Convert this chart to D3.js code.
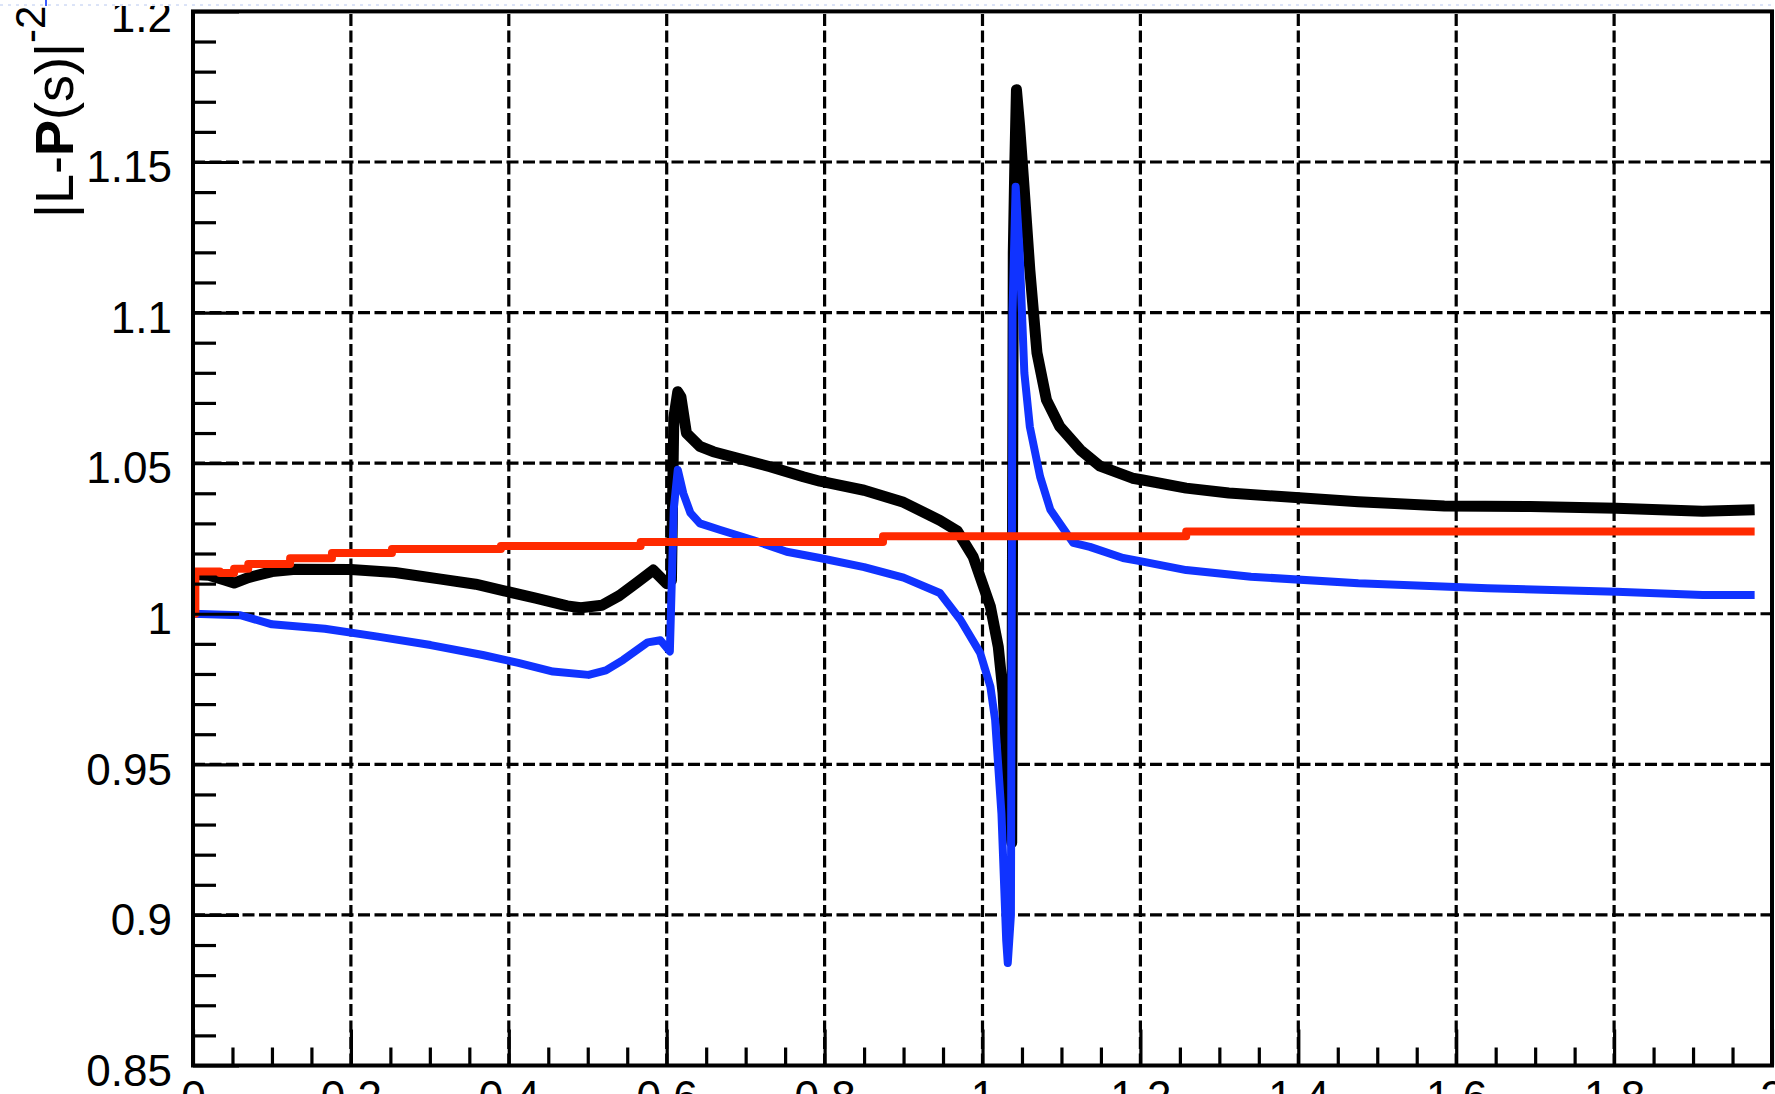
<!DOCTYPE html>
<html>
<head>
<meta charset="utf-8">
<script src="https://cdn.jsdelivr.net/npm/d3@7"></script>
<style>
  html, body { margin: 0; padding: 0; background: #fff; overflow: hidden; }
  svg { display: block; }
  text { font-family: "Liberation Sans", Arial, Helvetica, sans-serif; fill: #000; }
</style>
</head>
<body>
<svg id="chart" width="1775" height="1094"></svg>
<script>
// |L-P(s)|^-2 versus s : three curves
const xDomain = [0, 2];
const yDomain = [0.85, 1.2];

const xMajorTicks = [0, 0.2, 0.4, 0.6, 0.8, 1.0, 1.2, 1.4, 1.6, 1.8, 2.0];
const xTickLabels = ["0", "0.2", "0.4", "0.6", "0.8", "1", "1.2", "1.4", "1.6", "1.8", "2"];
const yMajorTicks = [0.85, 0.9, 0.95, 1.0, 1.05, 1.1, 1.15, 1.2];
const yTickLabels = ["0.85", "0.9", "0.95", "1", "1.05", "1.1", "1.15", "1.2"];

// black curve
const blackX = [0.000, 0.020, 0.040, 0.052, 0.070, 0.100, 0.130, 0.200, 0.256, 0.314,
  0.358, 0.394, 0.434, 0.474, 0.491, 0.518, 0.540, 0.563, 0.583, 0.600,
  0.606, 0.609, 0.614, 0.618, 0.625, 0.642, 0.659, 0.689, 0.731, 0.773,
  0.794, 0.850, 0.900, 0.946, 0.968, 0.988, 1.010, 1.020, 1.026, 1.029,
  1.033, 1.037, 1.039, 1.041, 1.043, 1.047, 1.052, 1.060, 1.069, 1.081,
  1.098, 1.124, 1.149, 1.190, 1.203, 1.258, 1.312, 1.378, 1.476, 1.585,
  1.694, 1.803, 1.912, 1.978];
const blackY = [1.0130, 1.0128, 1.0112, 1.0102, 1.0120, 1.0140, 1.0148, 1.0147, 1.0137, 1.0115,
  1.0098, 1.0076, 1.0052, 1.0026, 1.0020, 1.0028, 1.0060, 1.0105, 1.0145, 1.0100,
  1.0110, 1.0650, 1.0737, 1.0720, 1.0600, 1.0556, 1.0538, 1.0517, 1.0488, 1.0455,
  1.0440, 1.0410, 1.0370, 1.0310, 1.0275, 1.0190, 1.0024, 0.9890, 0.9737, 0.9580,
  0.9400, 0.9240, 1.1200, 1.1500, 1.1740, 1.1620, 1.1440, 1.1140, 1.0866, 1.0710,
  1.0621, 1.0544, 1.0490, 1.0450, 1.0444, 1.0417, 1.0401, 1.0389, 1.0372, 1.0358,
  1.0356, 1.0350, 1.0340, 1.0345];

// blue curve
const blueX = [0.000, 0.060, 0.100, 0.167, 0.234, 0.301, 0.367, 0.412, 0.456, 0.501,
  0.523, 0.545, 0.576, 0.592, 0.604, 0.609, 0.614, 0.621, 0.630, 0.642,
  0.668, 0.709, 0.752, 0.794, 0.850, 0.900, 0.946, 0.972, 0.997, 1.010,
  1.016, 1.024, 1.030, 1.032, 1.036, 1.038, 1.042, 1.047, 1.053, 1.060,
  1.073, 1.086, 1.115, 1.136, 1.178, 1.203, 1.258, 1.340, 1.476, 1.640,
  1.803, 1.912, 1.978];
const blueY = [1.0000, 0.9995, 0.9965, 0.9950, 0.9924, 0.9896, 0.9863, 0.9837, 0.9808, 0.9797,
  0.9812, 0.9847, 0.9905, 0.9912, 0.9875, 1.0350, 1.0478, 1.0400, 1.0335, 1.0300,
  1.0278, 1.0245, 1.0206, 1.0185, 1.0155, 1.0120, 1.0069, 0.9980, 0.9870, 0.9758,
  0.9647, 0.9336, 0.8917, 0.8840, 0.9000, 1.1000, 1.1418, 1.1200, 1.0800, 1.0620,
  1.0455, 1.0345, 1.0235, 1.0222, 1.0185, 1.0173, 1.0145, 1.0123, 1.0101, 1.0085,
  1.0073, 1.0062, 1.0062];

// red curve (piecewise constant)
const redX = [0.000, 0.003, 0.034, 0.052, 0.070, 0.123, 0.176, 0.252, 0.390, 0.567, 0.874, 1.258, 1.978];
const redY = [1.0000, 1.0140, 1.0135, 1.0149, 1.0165, 1.0184, 1.0202, 1.0215, 1.0225, 1.0238, 1.0257, 1.0273, 1.0273];

const W = 1775, H = 1094;
const frame = { left: 193, right: 1772, top: 11.4, bottom: 1065.5 };

const svg = d3.select("#chart");
const x = d3.scaleLinear().domain(xDomain).range([frame.left, frame.right]);
const y = d3.scaleLinear().domain(yDomain).range([frame.bottom, frame.top]);

// minor tick values: 0.05 in x, 0.01 in y
const xMinor = d3.range(0, 2.0001, 0.05).filter(v => Math.abs(v * 5 - Math.round(v * 5)) > 1e-6);
const yMinor = d3.range(0.85, 1.2001, 0.01).filter(v => Math.abs(v * 20 - Math.round(v * 20)) > 1e-6);

// dashed grid
const grid = svg.append("g").attr("stroke", "#000").attr("stroke-width", 3.2)
  .attr("stroke-dasharray", "12,4.5").attr("fill", "none");
grid.selectAll("line.gx").data(xMajorTicks.filter(v => v > 0 && v < 2)).join("line")
  .attr("class", "gx")
  .attr("x1", d => x(d)).attr("x2", d => x(d))
  .attr("y1", frame.bottom).attr("y2", frame.top);
grid.selectAll("line.gy").data(yMajorTicks.filter(v => v > 0.85 && v < 1.2)).join("line")
  .attr("class", "gy")
  .attr("y1", d => y(d)).attr("y2", d => y(d))
  .attr("x1", frame.left).attr("x2", frame.right);

// curves
const makeLine = (curve) => d3.line().x(d => x(d[0])).y(d => y(d[1])).curve(curve);
const zip = (a, b) => a.map((v, i) => [v, b[i]]);

// drawn in this order: black, blue over it, red on top
const series = [
  { xs: blackX, ys: blackY, color: "#000000", width: 11, curve: d3.curveLinear },
  { xs: blueX, ys: blueY, color: "#1033ff", width: 8, curve: d3.curveLinear },
  { xs: redX, ys: redY, color: "#ff2a00", width: 8, curve: d3.curveStepAfter }
];
series.forEach(s => {
  svg.append("path")
    .datum(zip(s.xs, s.ys))
    .attr("d", makeLine(s.curve))
    .attr("fill", "none")
    .attr("stroke", s.color)
    .attr("stroke-width", s.width)
    .attr("stroke-linejoin", "round");
});

// axes with inward ticks
const labelFont = 44;
const xAxisMinor = d3.axisBottom(x).tickValues(xMinor).tickSize(-18).tickFormat("");
const xAxisMajor = d3.axisBottom(x).tickValues(xMajorTicks).tickSize(-36).tickPadding(15)
  .tickFormat((d, i) => xTickLabels[i]);
const yAxisMinor = d3.axisLeft(y).tickValues(yMinor).tickSize(-23).tickFormat("");
const yAxisMajor = d3.axisLeft(y).tickValues(yMajorTicks).tickSize(-46).tickPadding(21)
  .tickFormat((d, i) => yTickLabels[i]);

function styleAxis(g) {
  g.select(".domain").remove();
  g.selectAll(".tick line").attr("stroke", "#000").attr("stroke-width", 3.2);
  g.selectAll(".tick text").attr("font-size", labelFont)
    .attr("font-family", "'Liberation Sans', Arial, Helvetica, sans-serif").attr("fill", "#000");
}

svg.append("g").attr("transform", `translate(0,${frame.bottom})`).call(xAxisMinor).call(styleAxis);
svg.append("g").attr("transform", `translate(0,${frame.bottom})`).call(xAxisMajor).call(styleAxis)
  .selectAll(".tick text").attr("dy", "0.71em");
svg.append("g").attr("transform", `translate(${frame.left},0)`).call(yAxisMinor).call(styleAxis);
svg.append("g").attr("transform", `translate(${frame.left},0)`).call(yAxisMajor).call(styleAxis)
  .selectAll(".tick text").attr("dy", "0.45em");

// frame
svg.append("rect")
  .attr("x", frame.left).attr("y", frame.top)
  .attr("width", frame.right - frame.left).attr("height", frame.bottom - frame.top)
  .attr("fill", "none").attr("stroke", "#000").attr("stroke-width", 4);

// y axis title
const title = svg.append("text")
  .attr("transform", "translate(73,218) rotate(-90)")
  .attr("font-size", 54);
title.append("tspan").text("|L-");
title.append("tspan").attr("font-weight", "bold").text("P");
title.append("tspan").text("(s)|");
title.append("tspan").attr("font-size", 42).attr("dy", -28).text("-2");

// top margin strip of the canvas
svg.append("rect").attr("x", 0).attr("y", 0).attr("width", W).attr("height", 6).attr("fill", "#fff");
svg.append("line").attr("x1", 0).attr("x2", W).attr("y1", 5).attr("y2", 5)
  .attr("stroke", "#b8c8f0").attr("stroke-width", 1).attr("stroke-dasharray", "3,5");
svg.append("line").attr("x1", 46).attr("x2", 46).attr("y1", 0).attr("y2", 6)
  .attr("stroke", "#3a5cff").attr("stroke-width", 2);
</script>
</body>
</html>
